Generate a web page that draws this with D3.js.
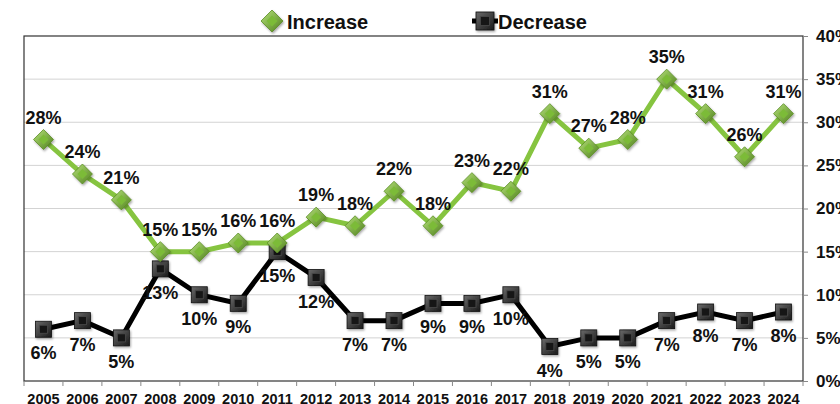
<!DOCTYPE html>
<html>
<head>
<meta charset="utf-8">
<script src="https://cdn.jsdelivr.net/npm/d3@7"></script>
<style>
  body { margin: 0; background: #fff; }
  text { font-family: "Liberation Sans", Arial, sans-serif; font-weight: bold; fill: #111; }
</style>
</head>
<body>
<div id="chart"></div>
<script>
const years = ["2005","2006","2007","2008","2009","2010","2011","2012","2013","2014",
               "2015","2016","2017","2018","2019","2020","2021","2022","2023","2024"];
const increase = [28,24,21,15,15,16,16,19,18,22,18,23,22,31,27,28,35,31,26,31];
const decrease = [6,7,5,13,10,9,15,12,7,7,9,9,10,4,5,5,7,8,7,8];
const yTicks = [0,5,10,15,20,25,30,35,40];

const W = 840, H = 404;
const margin = { top: 36, right: 37, bottom: 23, left: 24 };
const width = W - margin.left - margin.right,
      height = H - margin.top - margin.bottom;

const svg = d3.select("#chart").append("svg")
  .attr("width", W).attr("height", H);

const defs = svg.append("defs");
const gG = defs.append("linearGradient").attr("id", "gGreen")
  .attr("x1", "0").attr("y1", "0").attr("x2", "1").attr("y2", "1");
gG.append("stop").attr("offset", "0").attr("stop-color", "#b5e27a");
gG.append("stop").attr("offset", "1").attr("stop-color", "#4f7f1c");
const gK = defs.append("linearGradient").attr("id", "gBlack")
  .attr("x1", "0").attr("y1", "0").attr("x2", "1").attr("y2", "1");
gK.append("stop").attr("offset", "0").attr("stop-color", "#6a6a6a");
gK.append("stop").attr("offset", "1").attr("stop-color", "#1a1a1a");
const sh = defs.append("filter").attr("id", "shadow")
  .attr("x", "-50%").attr("y", "-50%").attr("width", "200%").attr("height", "200%");
sh.append("feDropShadow").attr("dx", 1).attr("dy", 1.5).attr("stdDeviation", 1)
  .attr("flood-color", "#000").attr("flood-opacity", 0.35);

const g = svg.append("g").attr("transform", `translate(${margin.left},${margin.top})`);

const x = d3.scaleBand().domain(years).range([0, width]);
const y = d3.scaleLinear().domain([0, 40]).range([height, 0]);
const cx = d => x(d) + x.bandwidth() / 2;

// grid
g.append("g").selectAll("line").data(yTicks.slice(1, -1)).join("line")
  .attr("x1", 0).attr("x2", width)
  .attr("y1", d => y(d)).attr("y2", d => y(d))
  .attr("stroke", "#d3d3d3").attr("stroke-width", 1);

// frame
g.append("rect").attr("width", width).attr("height", height)
  .attr("fill", "none").attr("stroke", "#333").attr("stroke-width", 1.2);

// bottom axis
const xAxis = g.append("g").attr("transform", `translate(0,${height})`)
  .call(d3.axisBottom(x).tickSize(0).tickPadding(13));
xAxis.select(".domain").remove();
xAxis.selectAll("text").style("font-size", "14.5px").attr("font-family", null);
xAxis.append("g").selectAll("line").data(d3.range(years.length + 1)).join("line")
  .attr("x1", i => i * x.step()).attr("x2", i => i * x.step())
  .attr("y1", 0).attr("y2", 5).attr("stroke", "#888");

// right axis
const yAxis = g.append("g").attr("transform", `translate(${width},0)`)
  .call(d3.axisRight(y).tickValues(yTicks).tickSize(5).tickPadding(8).tickFormat(d => d + "%"));
yAxis.select(".domain").remove();
yAxis.selectAll("line").attr("stroke", "#888");
yAxis.selectAll("text").style("font-size", "17px").attr("font-family", null);

const line = d3.line().x((d, i) => cx(years[i])).y(d => y(d));

g.append("path").datum(decrease).attr("d", line)
  .attr("fill", "none").attr("stroke", "#000").attr("stroke-width", 5);
g.append("path").datum(increase).attr("d", line)
  .attr("fill", "none").attr("stroke", "#86c440").attr("stroke-width", 5);

function diamond(sel, s) {
  sel.append("path").attr("d", `M0,${-s}L${s},0L0,${s}L${-s},0Z`)
    .attr("fill", "url(#gGreen)").attr("stroke", "#5a8d25").attr("stroke-width", 0.8)
    .attr("filter", "url(#shadow)");
  const t = s * 0.5;
  sel.append("path").attr("d", `M0,${-t}L${t},0L0,${t}L${-t},0Z`)
    .attr("fill", "#7cbb38");
}
function square(sel, s) {
  sel.append("rect").attr("x", -s).attr("y", -s).attr("width", 2 * s).attr("height", 2 * s)
    .attr("fill", "url(#gBlack)").attr("stroke", "#111").attr("stroke-width", 0.8)
    .attr("filter", "url(#shadow)");
  const t = s * 0.5;
  sel.append("rect").attr("x", -t).attr("y", -t).attr("width", 2 * t).attr("height", 2 * t)
    .attr("fill", "#161616").attr("stroke", "#4a4a4a").attr("stroke-width", 0.8);
}

g.append("g").selectAll("g").data(decrease).join("g")
  .attr("transform", (d, i) => `translate(${cx(years[i])},${y(d)})`)
  .each(function() { square(d3.select(this), 8); });
g.append("g").selectAll("g").data(increase).join("g")
  .attr("transform", (d, i) => `translate(${cx(years[i])},${y(d)})`)
  .each(function() { diamond(d3.select(this), 10); });

// data labels
g.append("g").selectAll("text").data(increase).join("text")
  .attr("x", (d, i) => cx(years[i])).attr("y", d => y(d) - 16)
  .attr("text-anchor", "middle").style("font-size", "18px")
  .text(d => d + "%");
g.append("g").selectAll("text").data(decrease).join("text")
  .attr("x", (d, i) => cx(years[i])).attr("y", d => y(d) + 30)
  .attr("text-anchor", "middle").style("font-size", "18px")
  .text(d => d + "%");

// legend
const leg = svg.append("g");
const l1 = leg.append("g").attr("transform", "translate(272,21)");
diamond(l1, 11);
leg.append("text").attr("x", 287).attr("y", 29).style("font-size", "20px").text("Increase");
const l2 = leg.append("g").attr("transform", "translate(485,21)");
l2.append("line").attr("x1", -13).attr("x2", 13).attr("stroke", "#000").attr("stroke-width", 5);
square(l2, 9);
leg.append("text").attr("x", 498).attr("y", 29).style("font-size", "20px").text("Decrease");
</script>
</body>
</html>
